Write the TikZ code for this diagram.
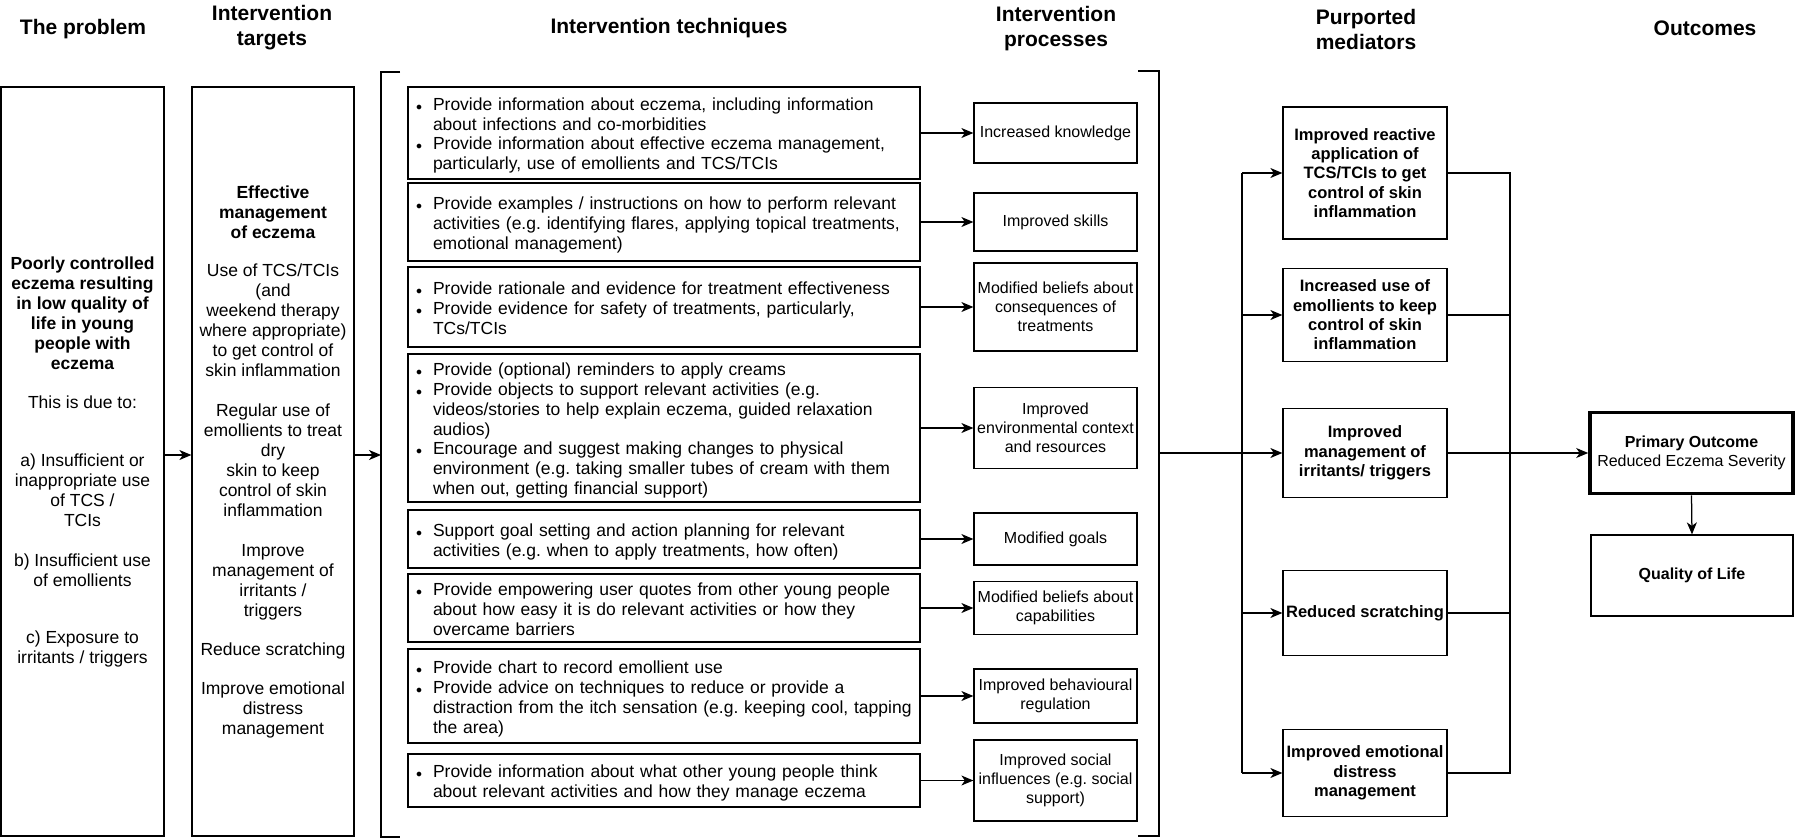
\documentclass[tikz,border=0pt]{standalone}
\usepackage{fontspec}
\setmainfont{Liberation Sans}
\usetikzlibrary{arrows.meta}
\frenchspacing

% bullet line: bullet, then a hanging block of lines
\newcommand{\titem}[1]{\par\noindent\makebox[21pt][l]{\hspace{4pt}{\fontsize{12}{12}\selectfont$\bullet$}}%
  \parbox[t]{483pt}{\raggedright #1\strut}\par}

\begin{document}
\begin{tikzpicture}[>={Stealth[length=12pt,width=10pt,inset=3.5pt]}, x=1pt, y=-1pt, line width=1.25pt,
    head/.style={font=\fontsize{21}{25}\selectfont\bfseries, align=center},
    colbox/.style={draw, inner sep=0pt, align=center, font=\fontsize{17.5}{20}\selectfont},
    techbox/.style={draw, inner sep=0pt, minimum width=512pt, text width=504pt, align=left,
                    font=\fontsize{17.5}{20}\selectfont},
    procbox/.style={draw, inner sep=0pt, minimum width=163pt, align=center, font=\fontsize{16}{19}\selectfont},
    medbox/.style={draw, inner sep=0pt, minimum width=164pt, align=center, font=\fontsize{16.5}{19.3}\selectfont\bfseries},
    outbox/.style={draw, inner sep=0pt, align=center, font=\fontsize{16}{19}\selectfont}]

    % parameters: column centres
    \def\TX{664}
    \def\PX{1055.5}
    \def\MX{1365}

    \useasboundingbox (0,0) rectangle (1800,838);

    % headings
    \node[head] (h1) at (83,29) {The problem};
    \node[head] (h2) at (272,28) {Intervention\\targets};
    \node[head] (h3) at (669,28) {Intervention techniques};
    \node[head] (h4) at (1056,29) {Intervention\\processes};
    \node[head] (h5) at (1366,29) {Purported\\mediators};
    \node[head] (h6) at (1705,28) {Outcomes};

    % the problem
    \node[colbox, minimum width=163pt, minimum height=749pt] (prob) at (82.5,461.5)
      {\textbf{Poorly controlled}\\\textbf{eczema resulting}\\\textbf{in low quality of}\\
       \textbf{life in young}\\\textbf{people with}\\\textbf{eczema}\\[19pt]
       This is due to:\\[38pt]
       a) Insufficient or\\inappropriate use\\of TCS /\\TCIs\\[20pt]
       b) Insufficient use\\of emollients\\[37pt]
       c) Exposure to\\irritants / triggers};

    % intervention targets
    \node[colbox, minimum width=162pt, minimum height=749pt] (targ) at (273,461.5)
      {\textbf{Effective}\\\textbf{management}\\\textbf{of eczema}\\[18pt]
       Use of TCS/TCIs\\(and\\weekend therapy\\where appropriate)\\to get control of\\skin inflammation\\[20pt]
       Regular use of\\emollients to treat\\dry\\skin to keep\\control of skin\\inflammation\\[20pt]
       Improve\\management of\\irritants /\\triggers\\[19pt]
       Reduce scratching\\[19pt]
       Improve emotional\\distress\\management};

    % intervention techniques
    \node[techbox, minimum height=92pt] (t1) at (\TX,133)
      {\titem{Provide information about eczema, including information\newline about infections and co-morbidities}
       \titem{Provide information about effective eczema management,\newline particularly, use of emollients and TCS/TCIs}};
    \node[techbox, minimum height=78pt] (t2) at (\TX,222)
      {\titem{Provide examples / instructions on how to perform relevant\newline activities (e.g. identifying flares, applying topical treatments,\newline emotional management)}};
    \node[techbox, minimum height=80pt] (t3) at (\TX,307)
      {\titem{Provide rationale and evidence for treatment effectiveness}
       \titem{Provide evidence for safety of treatments, particularly,\newline TCs/TCIs}};
    \node[techbox, minimum height=148pt] (t4) at (\TX,428)
      {\titem{Provide (optional) reminders to apply creams}
       \titem{Provide objects to support relevant activities (e.g.\newline videos/stories to help explain eczema, guided relaxation\newline audios)}
       \titem{Encourage and suggest making changes to physical\newline environment (e.g. taking smaller tubes of cream with them\newline when out, getting financial support)}};
    \node[techbox, minimum height=58pt] (t5) at (\TX,539)
      {\titem{Support goal setting and action planning for relevant\newline activities (e.g. when to apply treatments, how often)}};
    \node[techbox, minimum height=68pt] (t6) at (\TX,608)
      {\titem{Provide empowering user quotes from other young people\newline about how easy it is do relevant activities or how they\newline overcame barriers}};
    \node[techbox, minimum height=94pt] (t7) at (\TX,696)
      {\titem{Provide chart to record emollient use}
       \titem{Provide advice on techniques to reduce or provide a\newline distraction from the itch sensation (e.g. keeping cool, tapping\newline the area)}};
    \node[techbox, minimum height=53pt] (t8) at (\TX,780.5)
      {\titem{Provide information about what other young people think\newline about relevant activities and how they manage eczema}};

    % intervention processes
    \node[procbox, minimum height=60pt] (p1) at (\PX,133) {Increased knowledge};
    \node[procbox, minimum height=58pt] (p2) at (\PX,222) {Improved skills};
    \node[procbox, minimum height=88pt] (p3) at (\PX,307) {Modified beliefs about\\consequences of\\treatments};
    \node[procbox, minimum height=81pt] (p4) at (\PX,428) {Improved\\environmental context\\and resources};
    \node[procbox, minimum height=52pt] (p5) at (\PX,539) {Modified goals};
    \node[procbox, minimum height=53pt] (p6) at (\PX,608) {Modified beliefs about\\capabilities};
    \node[procbox, minimum height=54pt] (p7) at (\PX,696) {Improved behavioural\\regulation};
    \node[procbox, minimum height=81pt] (p8) at (\PX,780.5) {Improved social\\influences (e.g. social\\support)};

    % purported mediators
    \node[medbox, minimum height=132pt] (m1) at (\MX,173) {Improved reactive\\application of\\TCS/TCIs to get\\control of skin\\inflammation};
    \node[medbox, minimum height=93pt] (m2) at (\MX,315) {Increased use of\\emollients to keep\\control of skin\\inflammation};
    \node[medbox, minimum height=89pt] (m3) at (\MX,453) {Improved\\management of\\irritants/ triggers};
    \node[medbox, minimum height=85pt] (m4) at (\MX,613) {Reduced scratching};
    \node[medbox, minimum height=87pt] (m5) at (\MX,773) {Improved emotional\\distress\\management};

    % outcomes
    \node[outbox, line width=3.6pt, minimum width=203pt, minimum height=81pt] (prim) at (1691.5,453)
      {\textbf{Primary Outcome}\\Reduced Eczema Severity};
    \node[outbox, minimum width=202pt, minimum height=81pt] (qol) at (1692,575.5) {\textbf{Quality of Life}};

    % brackets round the techniques and processes
    \draw (400,72) -- (381,72) -- (381,837) -- (400,837);
    \draw (1138,71) -- (1159,71) -- (1159,836) -- (1138,836);
    \coordinate (lvl) at (0,455);
    \coordinate (lbr) at (381,455);
    \coordinate (rbr) at (1159,453);
    \coordinate (bus) at (1242,453);
    \coordinate (rbus) at (1510,453);

    % problem -> targets -> techniques
    \draw[->] (prob.east |- lvl) -- (targ.west |- lvl);
    \draw[->] (targ.east |- lvl) -- (lbr);

    % techniques -> processes
    \draw[->] (t1.east) -- (p1.west);
    \draw[->] (t2.east) -- (p2.west);
    \draw[->] (t3.east) -- (p3.west);
    \draw[->] (t4.east) -- (p4.west);
    \draw[->] (t5.east) -- (p5.west);
    \draw[->] (t6.east) -- (p6.west);
    \draw[->] (t7.east) -- (p7.west);
    \draw[->] (t8.east) -- (p8.west);

    % processes -> mediators
    \draw[->] (rbr) -- (m3.west);
    \draw (bus |- m1.west) -- (bus |- m5.west);
    \draw[->] (bus |- m1.west) -- (m1.west);
    \draw[->] (bus |- m2.west) -- (m2.west);
    \draw[->] (bus |- m4.west) -- (m4.west);
    \draw[->] (bus |- m5.west) -- (m5.west);

    % mediators -> outcomes
    \draw (m1.east) -- (rbus |- m1.east) -- (rbus |- m5.east) -- (m5.east);
    \draw (m2.east) -- (rbus |- m2.east);
    \draw (m4.east) -- (rbus |- m4.east);
    \draw[->] (m3.east) -- (prim.west);
    \draw[->] (prim.south) -- (qol.north);

\end{tikzpicture}
\end{document}
